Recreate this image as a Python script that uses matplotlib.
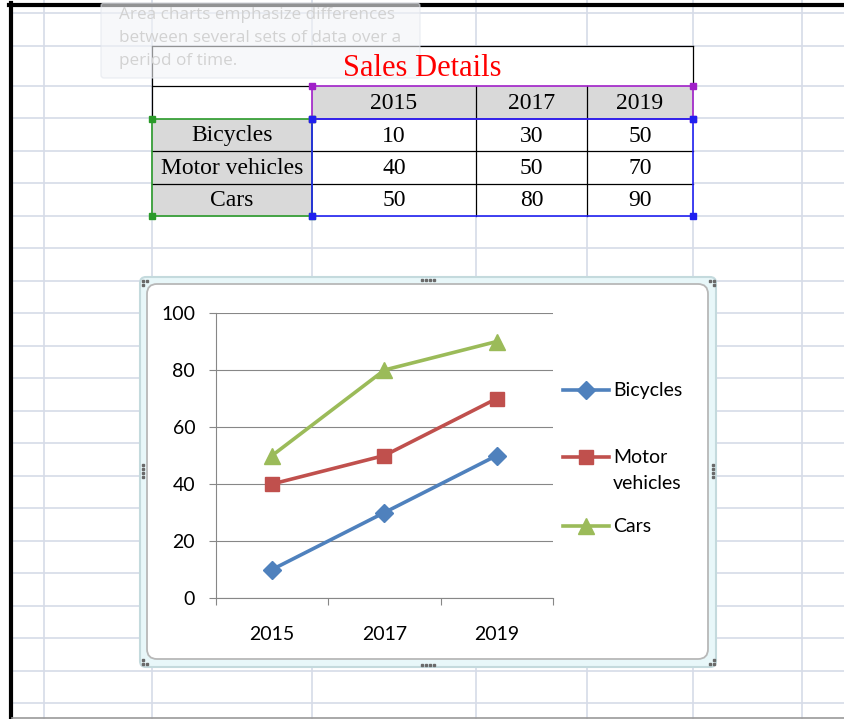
import numpy as np
import matplotlib.pyplot as plt
from matplotlib.patches import Rectangle, FancyBboxPatch

# data
years = ['2015', '2017', '2019']
vehicles = ['Bicycles', 'Motor vehicles', 'Cars']
bicycles = [10, 30, 50]
motor_vehicles = [40, 50, 70]
cars = [50, 80, 90]
legend_labels = ['Bicycles', 'Motor\nvehicles', 'Cars']
tooltip_lines = ['Area charts emphasize differences',
                 'between several sets of data over a',
                 'period of time.']

series = [bicycles, motor_vehicles, cars]
colors = ['#4f81bd', '#c0504d', '#9bbb59']
markers = ['D', 's', '^']
msizes = [9, 10, 11]

W, H = 844, 719
fig = plt.figure(figsize=(W / 100, H / 100), dpi=100)
bg = fig.add_axes([0, 0, 1, 1])
bg.set_xlim(0, W)
bg.set_ylim(H, 0)
bg.axis('off')

# spreadsheet grid
sheet_cols = [44, 152, 312, 476, 587, 693, 802]
sheet_rows = [13, 46, 86, 118, 151, 183, 216, 248, 281, 313, 346, 378, 411,
              443, 476, 508, 541, 573, 606, 638, 671, 703]
grid_c = '#d6dce8'
for x in sheet_cols:
    bg.plot([x, x], [0, H], color=grid_c, lw=1.2, zorder=0)
for y in sheet_rows:
    bg.plot([12, W], [y, y], color=grid_c, lw=1.2, zorder=0)
bg.plot([10.5, 10.5], [3, H], color='black', lw=3, zorder=1)
bg.plot([9, W], [4.5, 4.5], color='black', lw=3, zorder=1)
bg.plot([12, W], [718, 718], color='#9a9a9a', lw=1.2, zorder=1)

# table
cx = [152, 312, 476, 587, 693]
ry = [46, 86, 119, 151, 184, 216]
serif = 'Liberation Serif'
bg.add_patch(Rectangle((cx[0], ry[0]), cx[-1] - cx[0], ry[1] - ry[0], fc='white', ec='none', zorder=2))
bg.add_patch(Rectangle((cx[0], ry[1]), cx[1] - cx[0], ry[2] - ry[1], fc='white', ec='none', zorder=2))
bg.add_patch(Rectangle((cx[1], ry[1]), cx[-1] - cx[1], ry[2] - ry[1], fc='#d9d9d9', ec='none', zorder=2))
bg.add_patch(Rectangle((cx[0], ry[2]), cx[1] - cx[0], ry[-1] - ry[2], fc='#d9d9d9', ec='none', zorder=2))
bg.add_patch(Rectangle((cx[1], ry[2]), cx[-1] - cx[1], ry[-1] - ry[2], fc='white', ec='none', zorder=2))

k = dict(color='black', lw=0.9, zorder=3)
bg.plot([cx[0], cx[-1]], [ry[0], ry[0]], **k)
bg.plot([cx[0], cx[0]], [ry[0], ry[2]], **k)
bg.plot([cx[-1], cx[-1]], [ry[0], ry[1]], **k)
bg.plot([cx[0], cx[1]], [ry[1], ry[1]], **k)
for x in cx[2:4]:
    bg.plot([x, x], [ry[1], ry[-1]], **k)
for y in ry[3:5]:
    bg.plot([cx[0], cx[-1]], [y, y], **k)

sel = [((cx[1], ry[1]), (cx[-1], ry[2]), '#a020c8'),
       ((cx[0], ry[2]), (cx[1], ry[-1]), '#2a9a2a'),
       ((cx[1], ry[2]), (cx[-1], ry[-1]), '#2020f0')]
for (x0, y0), (x1, y1), c in sel:
    bg.add_patch(Rectangle((x0, y0), x1 - x0, y1 - y0, fc='none', ec=c, lw=1.2, zorder=4))
    bg.plot([x0, x1, x0, x1], [y0, y0, y1, y1], ls='none', marker='s', ms=4.5, color=c, zorder=5)

bg.text((cx[0] + cx[-1]) / 2, 69, 'Sales Details', color='#ff0000', fontsize=22,
        family=serif, ha='center', va='center', zorder=8)
for j, yr in enumerate(years):
    bg.text((cx[j + 1] + cx[j + 2]) / 2, (ry[1] + ry[2]) / 2 + 1, yr, fontsize=17,
            family=serif, ha='center', va='center', zorder=6)
for i, name in enumerate(vehicles):
    yc = (ry[i + 2] + ry[i + 3]) / 2 + 1
    bg.text((cx[0] + cx[1]) / 2, yc, name, fontsize=17, family=serif,
            ha='center', va='center', zorder=6)
    for j, v in enumerate(series[i]):
        bg.text((cx[j + 1] + cx[j + 2]) / 2, yc, str(v), fontsize=17, family=serif,
                ha='center', va='center', zorder=6)

# fading tooltip
bg.add_patch(FancyBboxPatch((101, 3), 319, 75, boxstyle='round,pad=0,rounding_size=3',
                            fc='#f3f4f7', ec='#e2e5ec', lw=1, alpha=0.6, zorder=7))
for n, line in enumerate(tooltip_lines):
    bg.text(119, 15 + 23 * n, line, fontsize=12.3, family='Open Sans', color='#d2d2d2',
            ha='left', va='center', zorder=7.5)

# chart frame
bg.add_patch(FancyBboxPatch((140, 277), 576, 390, boxstyle='round,pad=0,rounding_size=6',
                            fc='#e8f7f9', ec='#c4dadd', lw=1.5, zorder=2))
bg.add_patch(FancyBboxPatch((147, 284), 561, 375, boxstyle='round,pad=0,rounding_size=10',
                            fc='white', ec='#b8b8b8', lw=1.3, zorder=2))
grip = '#6a6a6a'
bg.plot([142.5, 146.5, 142.5], [280.5, 280.5, 284.5], ls='none', marker='s', ms=1.6, color=grip, zorder=3)
bg.plot([709.5, 713.5, 713.5], [280.5, 280.5, 284.5], ls='none', marker='s', ms=1.6, color=grip, zorder=3)
bg.plot([142.5, 142.5, 146.5], [659.5, 663.5, 663.5], ls='none', marker='s', ms=1.6, color=grip, zorder=3)
bg.plot([713.5, 713.5, 709.5], [659.5, 663.5, 663.5], ls='none', marker='s', ms=1.6, color=grip, zorder=3)
for gx in [422, 426, 430, 434]:
    bg.plot([gx, gx], [279.5, 664.5], ls='none', marker='s', ms=1.6, color=grip, zorder=3)
for gy in [465, 469, 473, 477]:
    bg.plot([143, 713], [gy, gy], ls='none', marker='s', ms=1.6, color=grip, zorder=3)

# line chart
ax = fig.add_axes([216 / W, (H - 598) / H, 337 / W, 285 / H])
ax.set_zorder(3)
ax.patch.set_visible(False)
xs = np.arange(len(years)) + 0.5
for vals, c, m, ms in zip(series, colors, markers, msizes):
    ax.plot(xs, vals, color=c, lw=2.6, marker=m, ms=ms, clip_on=False, zorder=3)

ax.set_xlim(0, len(years))
ax.set_ylim(0, 100)
ax.set_yticks(np.arange(0, 101, 20))
ax.set_xticks(np.arange(0, len(years) + 1))
ax.set_xticklabels([])
ax.set_xticks(xs, minor=True)
ax.set_xticklabels(years, minor=True)
ax.set_axisbelow(True)
ax.yaxis.grid(True, color='#878787', lw=0.8)
for s in ['top', 'right']:
    ax.spines[s].set_visible(False)
for s in ['left', 'bottom']:
    ax.spines[s].set_color('#878787')
    ax.spines[s].set_linewidth(0.8)
ax.tick_params(axis='both', which='major', length=5, width=0.8, color='#878787')
ax.tick_params(axis='y', pad=10)
ax.tick_params(axis='x', which='minor', length=0, pad=20)
for lab in ax.get_yticklabels() + ax.get_xticklabels(minor=True):
    lab.set_family('Lato')
    lab.set_fontsize(14)

# legend
leg_y = [390, 457, 526]
for lab, c, m, ms, y in zip(legend_labels, colors, markers, msizes, leg_y):
    bg.plot([563, 609], [y, y], color=c, lw=2.6, zorder=5)
    bg.plot([586], [y], color=c, marker=m, ms=ms, zorder=5)
    bg.text(613, y - 8, lab, family='Lato', fontsize=14, ha='left', va='top',
            linespacing=1.62, zorder=5)

fig.savefig('out.png', dpi=100)
